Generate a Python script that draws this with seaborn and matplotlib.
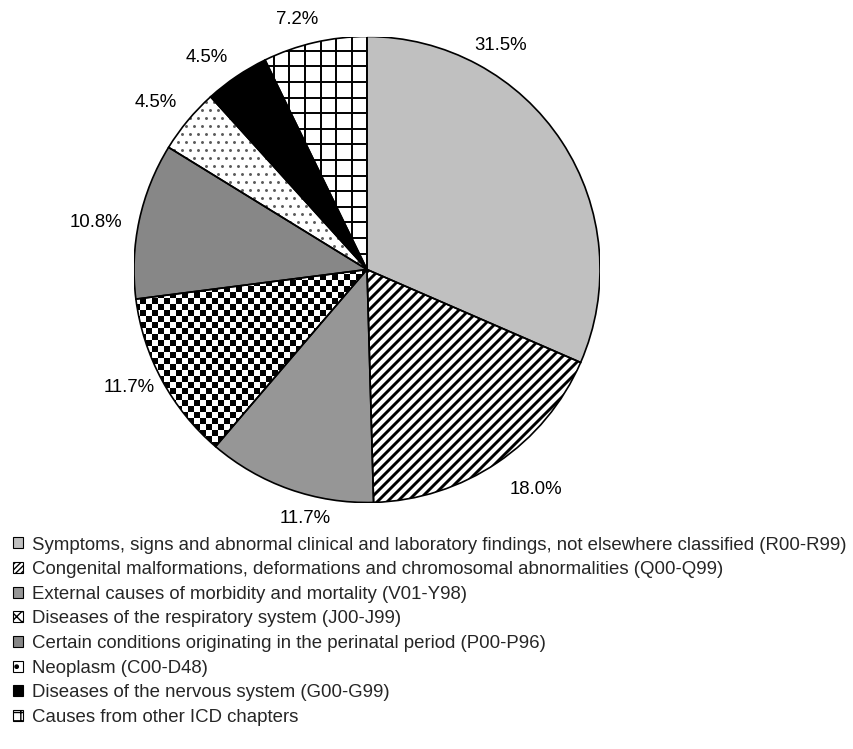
import numpy as np
import matplotlib
matplotlib.use("Agg")
import matplotlib.pyplot as plt
from matplotlib.patches import Patch, Wedge
from matplotlib.collections import LineCollection
import seaborn as sns

# Causes of death by ICD chapter, share of all deaths (%)
categories = [
    "Symptoms, signs and abnormal clinical and laboratory findings, not elsewhere classified (R00-R99)",
    "Congenital malformations, deformations and chromosomal abnormalities (Q00-Q99)",
    "External causes of morbidity and mortality (V01-Y98)",
    "Diseases of the respiratory system (J00-J99)",
    "Certain conditions originating in the perinatal period (P00-P96)",
    "Neoplasm (C00-D48)",
    "Diseases of the nervous system (G00-G99)",
    "Causes from other ICD chapters",
]
shares = [31.5, 18.0, 11.7, 11.7, 10.8, 4.5, 4.5, 7.2]
pct_labels = [f"{v:.1f}%" for v in shares]

sns.set_theme(style="white")
plt.rcParams["font.family"] = ["Liberation Sans", "DejaVu Sans"]
plt.rcParams["hatch.linewidth"] = 1.0

W, H, DPI = 854, 749, 100
fig = plt.figure(figsize=(W / DPI, H / DPI), dpi=DPI)
fig.patch.set_facecolor("white")

FS = 13.45

# pie centre and radius in pixels
cx, cy, R = 367, 269.5, 233
ax = fig.add_axes([(cx - R) / W, 1 - (cy + R) / H, 2 * R / W, 2 * R / H])
px = 1.0 / R  # one pixel in data units

base_colors = ["#c0c0c0", "white", "#969696", "white", "#878787", "white", "black", "white"]
wedges, _ = ax.pie(shares, colors=base_colors, startangle=90, counterclock=False,
                   radius=1, wedgeprops=dict(linewidth=0))
ax.set_xlim(-1, 1)
ax.set_ylim(-1, 1)
ax.set_aspect("equal")

# diagonal stripes
step = 10 * px
cs = np.arange(-2.5, 2.5, step)
segs = [[(-1.5, -1.5 + c), (1.5, 1.5 + c)] for c in cs]
lc = LineCollection(segs, colors="black", linewidths=2.1, zorder=2)
ax.add_collection(lc)
lc.set_clip_path(wedges[1])

# checkerboard
cell = 6 * px
n = int(np.ceil(2 / cell)) + 1
ii, jj = np.indices((n, n))
board = ((ii + jj) % 2).astype(float)
im = ax.imshow(board, cmap="gray", vmin=0, vmax=1, interpolation="nearest",
               extent=[-1, -1 + n * cell, -1, -1 + n * cell], zorder=2, origin="lower")
im.set_clip_path(wedges[3])
ax.set_xlim(-1, 1)
ax.set_ylim(-1, 1)

# dotted fill
dstep = 8 * px
dots_x, dots_y = [], []
for r_i, y in enumerate(np.arange(-1, 1, dstep)):
    off = (r_i % 2) * dstep / 2
    for x in np.arange(-1, 1, dstep):
        dots_x.append(x + off)
        dots_y.append(y)
sc = ax.scatter(dots_x, dots_y, s=4.5, color="#5a5a5a", linewidths=0, zorder=2)
sc.set_clip_path(wedges[5])

# square grid
gstep = 15.6 * px
gvals = np.arange(-1 - 0.7 * px, 1, gstep)
gsegs = [[(g, -1), (g, 1)] for g in gvals] + [[(-1, g), (1, g)] for g in gvals]
glc = LineCollection(gsegs, colors="black", linewidths=1.4, zorder=2)
ax.add_collection(glc)
glc.set_clip_path(wedges[7])

# slice outlines on top of the fills
for w in wedges:
    ax.add_patch(Wedge(w.center, w.r, w.theta1, w.theta2, fill=False,
                       edgecolor="black", linewidth=1.2, zorder=5))

# percentage labels outside the slices
label_r = [1.12, 1.19, 1.10, 1.14, 1.18, 1.155, 1.14, 1.114]
label_nudge = [26.0, 3.4, 5.4, -2.0, 2.3, 1.5, 3.0, 2.7]
for w, lab, r, nd in zip(wedges, pct_labels, label_r, label_nudge):
    ang = np.deg2rad((w.theta1 + w.theta2) / 2 + nd)
    ax.text(r * np.cos(ang), r * np.sin(ang), lab, ha="center", va="center",
            fontsize=FS, color="black", clip_on=False)

# legend
hatches = [None, "//////", None, "xxx", None, ".", None, "++"]
handles = [Patch(facecolor=c, edgecolor="black", hatch=h, linewidth=0.8)
           for c, h in zip(base_colors, hatches)]
fig.legend(handles, categories, loc="upper left",
           bbox_to_anchor=(13 / W, 1 - 536.5 / H), frameon=False, fontsize=FS,
           handlelength=0.54, handleheight=0.54, handletextpad=0.48,
           labelspacing=0.41, borderpad=0, borderaxespad=0)

fig.savefig("out.png", dpi=DPI, facecolor="white")
